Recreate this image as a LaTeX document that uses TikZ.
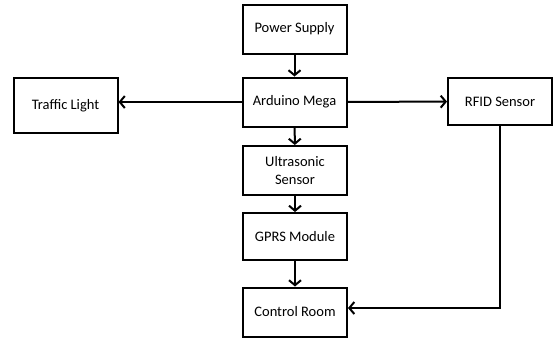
\documentclass[tikz,border=0pt]{standalone}
\usepackage{fontspec}
\setmainfont{Carlito}
\usetikzlibrary{arrows.meta}
\tikzset{
  blk/.style={draw,line width=2pt,minimum width=104pt,minimum height=49pt,
    align=center,inner sep=2pt,font=\fontsize{14.5}{17.5}\selectfont},
  link/.style={->,line width=2pt},
}
\begin{document}
\begin{tikzpicture}[x=1pt,y=-1pt,>={Straight Barb[length=5pt,width=12pt]}]
    \useasboundingbox (0,0) rectangle (554,338);
    \node[blk] (ps) at (294.5,29) {Power Supply};
    \node[blk] (ard) at (294.5,102) {Arduino Mega};
    \node[blk] (us) at (295,170.5) {Ultrasonic\\Sensor};
    \node[blk,minimum height=47pt] (gprs) at (295,236.5) {GPRS Module};
    \node[blk] (cr) at (295,312) {Control Room};
    \node[blk,minimum height=55pt] (tl) at (65.5,105.5) {Traffic Light};
    \node[blk,minimum height=47pt] (rfid) at (500,101.5) {RFID Sensor};
    \coordinate (bend) at (rfid.south |- 0,308);
    \draw[link] (ps) -- (ard);
    \draw[link] (ard.west) -- (ard.west -| tl.east);
    \draw[link] (ard) -- (rfid);
    \draw[link] (ard) -- (us);
    \draw[link] (us) -- (gprs);
    \draw[link] (gprs) -- (cr);
    \draw[link] (rfid.south) -- (bend) -- (bend -| cr.east);
\end{tikzpicture}
\end{document}
